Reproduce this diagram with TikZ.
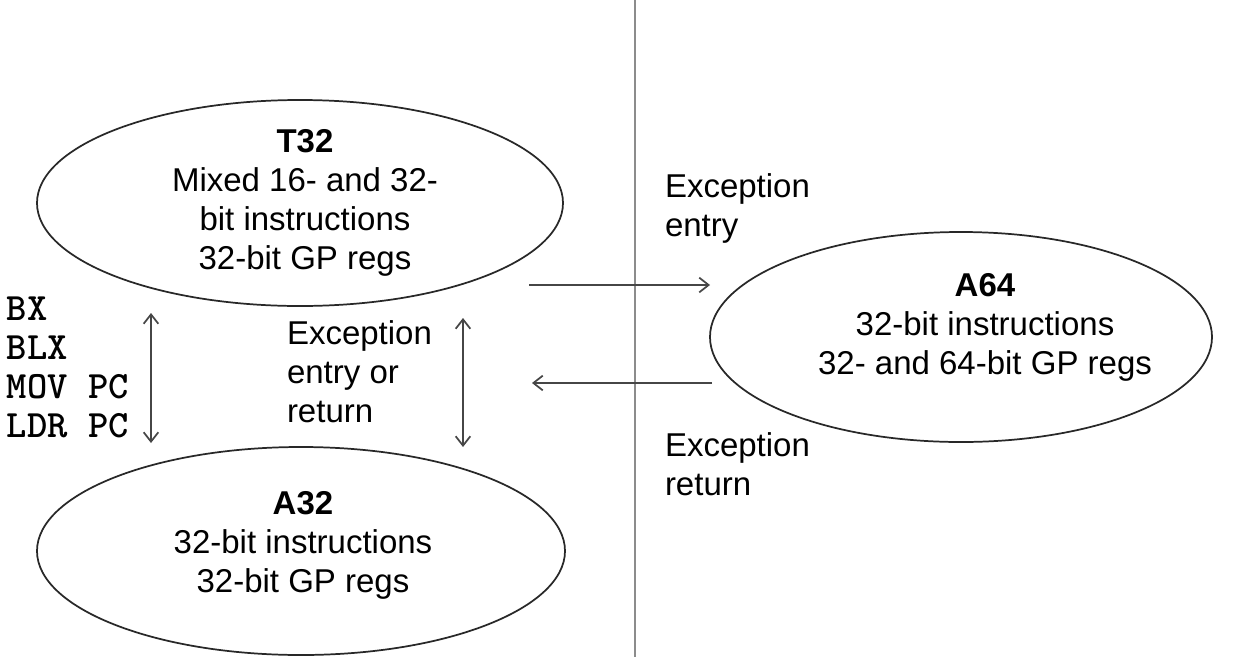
\documentclass[tikz,border=0pt]{standalone}
\usepackage{fontspec}
\setmainfont{Liberation Sans}
\newfontfamily\codefont{lmmonolt10-bold.otf}
\usetikzlibrary{shapes.geometric,arrows.meta}
\definecolor{divider}{RGB}{140,140,140}
\definecolor{ink}{RGB}{40,40,40}
\definecolor{arrowink}{RGB}{70,70,70}
\begin{document}
\begin{tikzpicture}[x=0.75pt,y=-0.75pt,
  >={Straight Barb[length=7pt,width=11pt]},
  mode/.style={draw=ink, line width=1.3pt, ellipse, inner sep=0pt, outer sep=0pt},
  txt/.style={font=\fontsize{24.75}{29.25}\selectfont, text=black, inner sep=0pt, outer sep=0pt},
  codetxt/.style={font=\codefont\fontsize{29}{29.25}\selectfont, text=black, inner sep=0pt, outer sep=0pt, anchor=base west},
  conn/.style={draw=arrowink, line width=1.3pt}
]
\useasboundingbox (0,0) rectangle (1234,657);
\fill[white] (0,0) rectangle (1234,657);

% divider
\coordinate (dtop) at (635,0);
\coordinate (dbot) at (635,657);
\draw[draw=divider, line width=2.2pt] (dtop) -- (dbot);

% modes
\node[mode, minimum width=394.5pt, minimum height=154.5pt] (t32) at (300,203) {};
\node[mode, minimum width=396pt, minimum height=156pt] (a32) at (301,551) {};
\node[mode, minimum width=376.5pt, minimum height=157.5pt] (a64) at (961,337) {};

\node[txt, align=center, anchor=north] (t32txt) at (305,129) {\textbf{T32}\\Mixed 16- and 32-\\bit instructions\\32-bit GP regs};
\node[txt, align=center, anchor=north] (a32txt) at (303,491) {\textbf{A32}\\32-bit instructions\\32-bit GP regs};
\node[txt, align=center, anchor=north] (a64txt) at (985,273) {\textbf{A64}\\32-bit instructions\\32- and 64-bit GP regs};

% labels
\node[txt, align=left, anchor=north west] (lentry) at (665,174) {Exception\\entry};
\node[txt, align=left, anchor=north west] (lreturn) at (665,433) {Exception\\return};
\node[txt, align=left, anchor=north west] (lboth) at (287,321) {Exception\\entry or\\return};

\node[codetxt] (c1) at (7,320) {BX};
\node[codetxt] (c2) at (7,359) {BLX};
\node[codetxt] (c3) at (7,398) {MOV PC};
\node[codetxt] (c4) at (7,437) {LDR PC};

% connectors
\coordinate (lu) at (151,313);
\coordinate (ld) at (151,443);
\coordinate (mu) at (463,318);
\coordinate (md) at (463,447);
\coordinate (es) at (529,285);
\coordinate (ee) at (710,285);
\coordinate (rs) at (712,383);
\coordinate (re) at (532,383);
\draw[conn,<->] (lu) -- (ld);
\draw[conn,<->] (mu) -- (md);
\draw[conn,->] (es) -- (ee);
\draw[conn,->] (rs) -- (re);
\end{tikzpicture}
\end{document}
